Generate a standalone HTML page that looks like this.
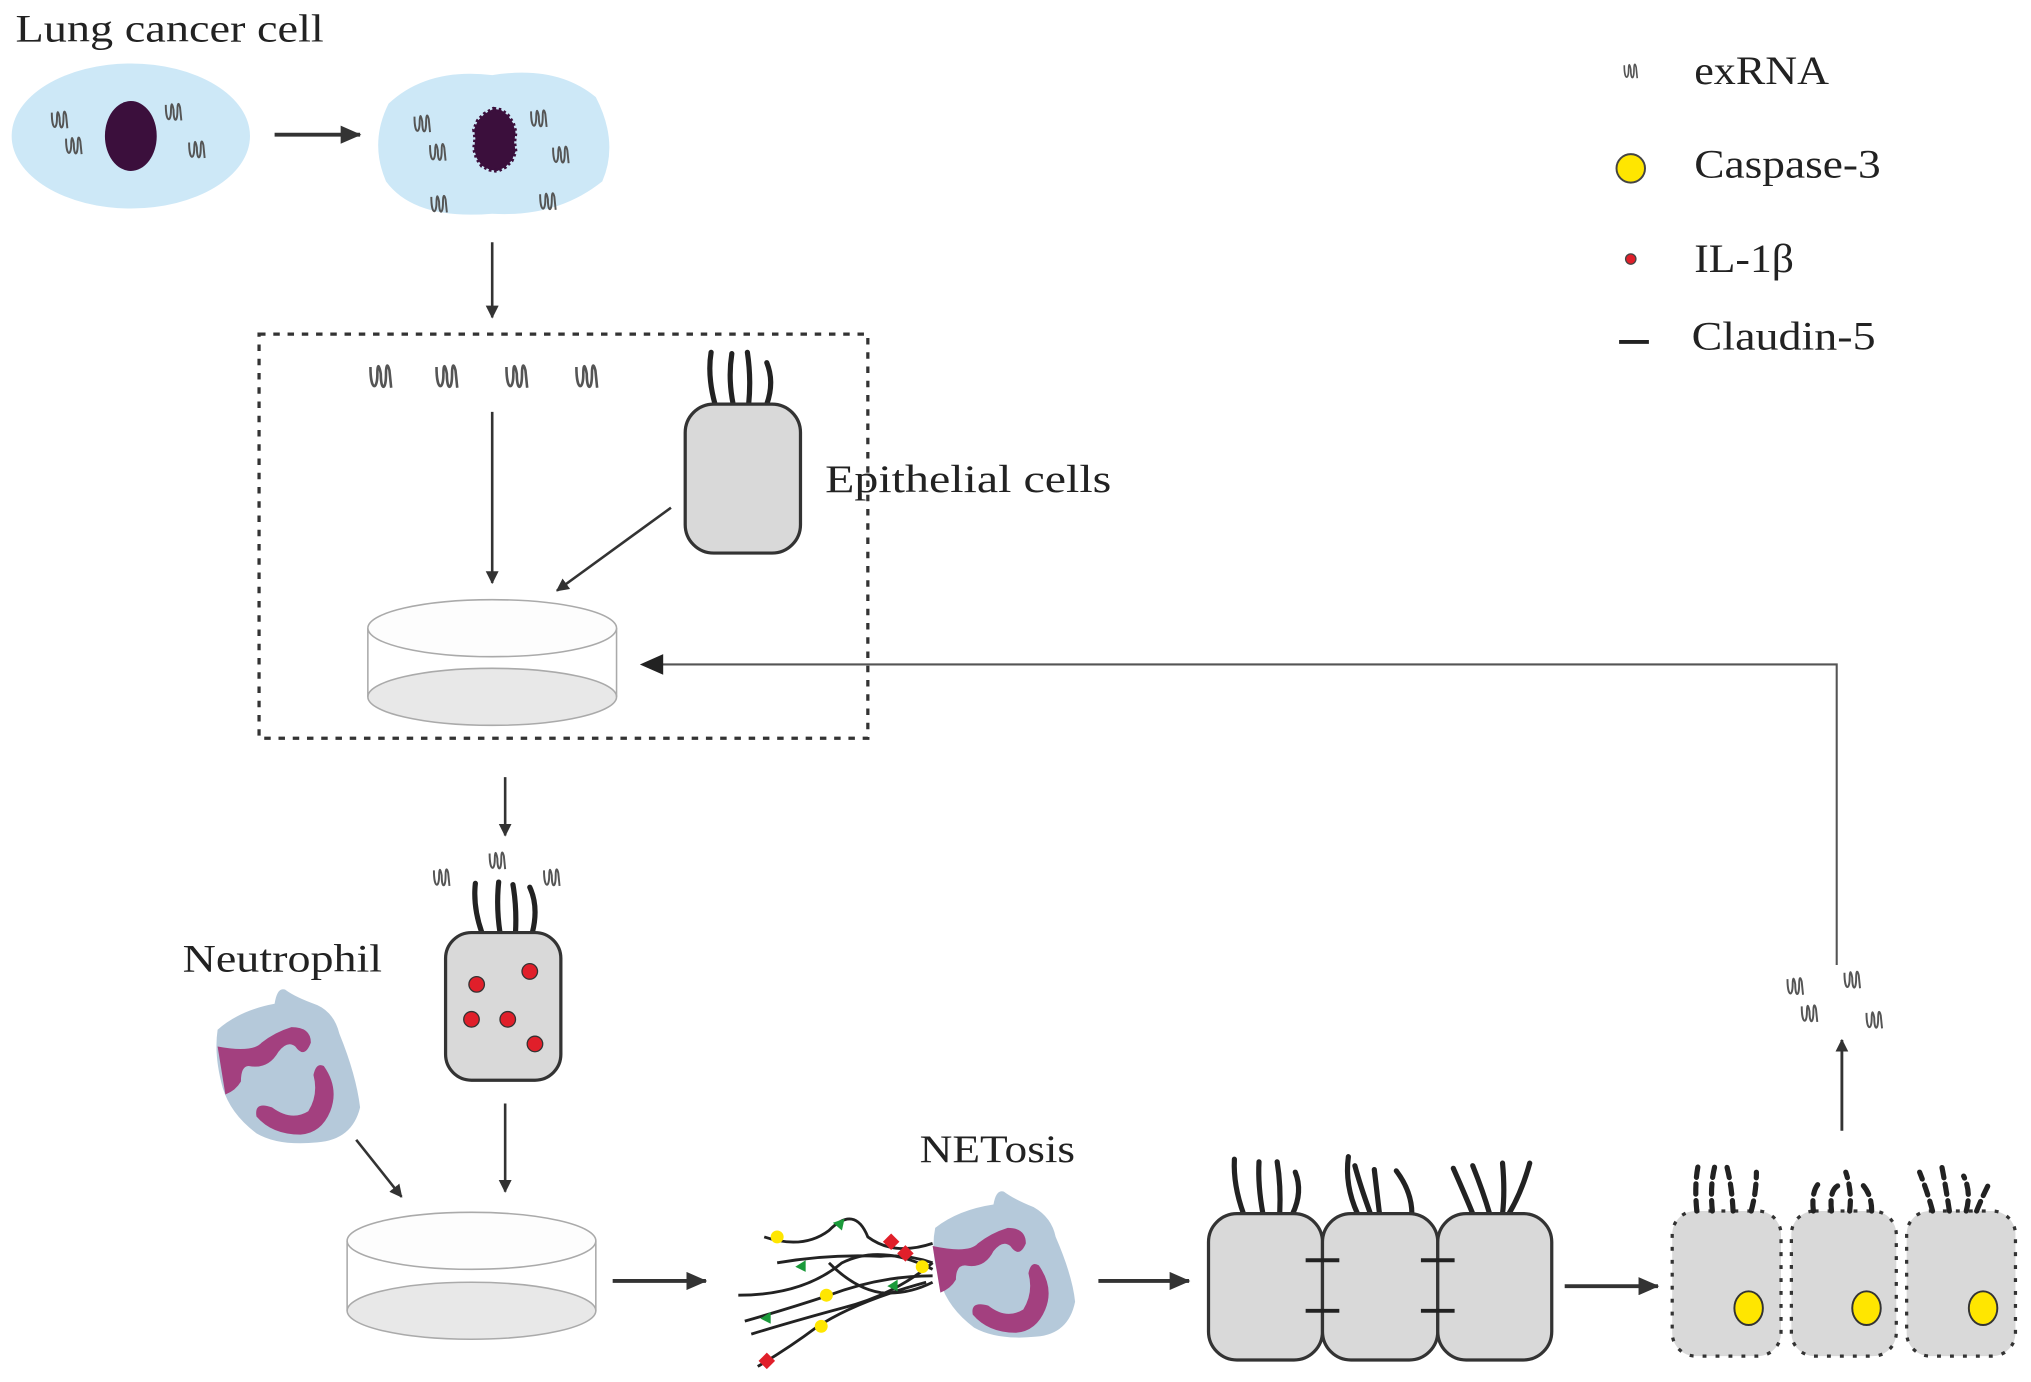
<!DOCTYPE html>
<html><head><meta charset="utf-8"><style>html,body{margin:0;padding:0;background:#fff;}svg{display:block;}</style></head>
<body>
<svg width="2031" height="1382" viewBox="0 0 1568 1067" preserveAspectRatio="none" xmlns="http://www.w3.org/2000/svg">
<defs>
<marker id="ah" markerWidth="10" markerHeight="10" refX="9" refY="5" orient="auto" markerUnits="userSpaceOnUse"><path d="M0,0 L10,5 L0,10 z" fill="#333"/></marker>
<marker id="ahs" markerWidth="16" markerHeight="14" refX="15" refY="7" orient="auto" markerUnits="userSpaceOnUse"><path d="M0,0 L16,7 L0,14 z" fill="#333"/></marker>
<symbol id="r" viewBox="0 0 14 18" overflow="visible"><path d="M1,4 C1,18 5,18 5,8 C5,2 6,2 7,8 C7,18 10,18 10,8 C10,2 11,2 12,6 L13,16" fill="none" stroke="#555" stroke-width="1.5"/></symbol>
</defs>
<g font-family="Liberation Serif, serif" fill="#222">
<text x="12" y="32" font-size="30" textLength="238" lengthAdjust="spacingAndGlyphs">Lung cancer cell</text>
<text x="637" y="380" font-size="30" textLength="221" lengthAdjust="spacingAndGlyphs">Epithelial  cells</text>
<text x="141" y="750" font-size="30" textLength="154" lengthAdjust="spacingAndGlyphs">Neutrophil</text>
<text x="710" y="897" font-size="30" textLength="120" lengthAdjust="spacingAndGlyphs">NETosis</text>
<text x="1308" y="65" font-size="31" textLength="104" lengthAdjust="spacingAndGlyphs">exRNA</text>
<text x="1308" y="137" font-size="31" textLength="144" lengthAdjust="spacingAndGlyphs">Caspase-3</text>
<text x="1308" y="210" font-size="31" textLength="77" lengthAdjust="spacingAndGlyphs">IL-1β</text>
<text x="1306" y="270" font-size="31" textLength="142" lengthAdjust="spacingAndGlyphs">Claudin-5</text>
</g>
<!-- legend -->
<use href="#r" x="1253" y="47" width="12" height="15"/>
<circle cx="1259" cy="130" r="11" fill="#ffe600" stroke="#444" stroke-width="1.5"/>
<circle cx="1259" cy="200" r="4" fill="#e01f2a" stroke="#444" stroke-width="1"/>
<line x1="1250" y1="264" x2="1273" y2="264" stroke="#222" stroke-width="3"/>

<!-- cell 1 -->
<ellipse cx="101" cy="105" rx="92" ry="56" fill="#cde8f7"/>
<ellipse cx="101" cy="105" rx="20" ry="27" fill="#3b0f3c"/>
<use href="#r" x="39" y="83" width="14" height="18"/><use href="#r" x="50" y="103" width="14" height="18"/>
<use href="#r" x="127" y="77" width="14" height="18"/><use href="#r" x="145" y="106" width="14" height="18"/>
<line x1="212" y1="104" x2="278" y2="104" stroke="#333" stroke-width="3" marker-end="url(#ahs)"/>
<!-- cell 2 -->
<path d="M300,80 Q330,52 380,58 Q430,50 460,75 Q478,110 465,140 Q430,168 380,165 Q320,170 298,140 Q285,110 300,80z" fill="#cde8f7"/>
<path d="M381,84 l6,1 5,4 4,6 2,7 -1,8 1,7 -3,7 -5,5 -6,3 -6,-1 -6,-3 -4,-6 -2,-7 1,-8 -1,-7 3,-7 5,-5z" fill="#3b0f3c" stroke="#3b0f3c" stroke-width="3" stroke-dasharray="2,2"/>
<use href="#r" x="319" y="86" width="14" height="18"/><use href="#r" x="331" y="108" width="14" height="18"/>
<use href="#r" x="409" y="82" width="14" height="18"/><use href="#r" x="426" y="110" width="14" height="18"/>
<use href="#r" x="332" y="148" width="14" height="18"/><use href="#r" x="416" y="146" width="14" height="18"/>
<line x1="380" y1="187" x2="380" y2="245" stroke="#333" stroke-width="2" marker-end="url(#ah)"/>

<!-- dashed box -->
<rect x="200" y="258" width="470" height="312" fill="none" stroke="#333" stroke-width="2.5" stroke-dasharray="5,6"/>
<use href="#r" x="284" y="278" width="20" height="24"/><use href="#r" x="335" y="278" width="20" height="24"/>
<use href="#r" x="389" y="278" width="20" height="24"/><use href="#r" x="443" y="278" width="20" height="24"/>
<line x1="380" y1="318" x2="380" y2="450" stroke="#333" stroke-width="2" marker-end="url(#ah)"/>
<g stroke="#222" stroke-width="4" fill="none" stroke-linecap="round"><path d="M552,312 Q546,290 549,272"/><path d="M566,312 Q562,292 565,273"/><path d="M578,312 Q580,292 577,272"/><path d="M592,312 Q598,295 592,280"/></g>
<rect x="529" y="312" width="89" height="115" rx="22" fill="#d9d9d9" stroke="#333" stroke-width="2.5"/>
<line x1="518" y1="392" x2="430" y2="456" stroke="#333" stroke-width="2" marker-end="url(#ah)"/>
<!-- dish 1 -->
<ellipse cx="380" cy="538" rx="96" ry="22" fill="#e8e8e8" stroke="#aaa" stroke-width="1.2"/>
<line x1="284" y1="485" x2="284" y2="538" stroke="#aaa" stroke-width="1.2"/><line x1="476" y1="485" x2="476" y2="538" stroke="#aaa" stroke-width="1.2"/>
<ellipse cx="380" cy="485" rx="96" ry="22" fill="#fdfdfd" stroke="#aaa" stroke-width="1.2"/>
<!-- feedback -->
<polyline points="1418,745 1418,513 497,513" fill="none" stroke="#555" stroke-width="1.6"/>
<path d="M494,513 L512,505 L512,521z" fill="#222"/>

<line x1="390" y1="600" x2="390" y2="645" stroke="#333" stroke-width="2" marker-end="url(#ah)"/>
<use href="#r" x="334" y="668" width="14" height="18"/><use href="#r" x="377" y="655" width="14" height="18"/><use href="#r" x="419" y="668" width="14" height="18"/>
<g stroke="#222" stroke-width="4" fill="none" stroke-linecap="round"><path d="M372,720 Q365,700 367,682"/><path d="M386,720 Q383,700 385,681"/><path d="M398,720 Q399,700 396,683"/><path d="M411,720 Q416,700 409,685"/></g>
<rect x="344" y="720" width="89" height="114" rx="20" fill="#d9d9d9" stroke="#333" stroke-width="2.5"/>
<g fill="#e01f2a" stroke="#333" stroke-width="1"><circle cx="368" cy="760" r="6"/><circle cx="409" cy="750" r="6"/><circle cx="364" cy="787" r="6"/><circle cx="392" cy="787" r="6"/><circle cx="413" cy="806" r="6"/></g>
<!-- neutrophil -->
<path d="M212,775 Q214,762 220,764 Q228,770 245,776 Q258,782 262,798 Q275,830 278,855 Q272,880 245,882 Q215,885 198,875 Q178,860 172,840 Q165,815 168,795 Q185,780 212,775z" fill="#b5c9da"/>
<path d="M168,808 Q195,813 202,805 Q212,797 225,793 Q240,793 240,805 Q235,818 228,808 Q222,803 215,812 Q207,826 192,823 Q186,823 186,835 Q182,842 174,845 Z" fill="#a3407f"/>
<path d="M250,823 Q262,840 255,858 Q248,875 232,876 Q210,876 198,862 Q196,850 210,855 Q225,866 238,858 Q246,845 242,830 Q244,820 250,823z" fill="#a3407f"/>
<line x1="275" y1="880" x2="310" y2="924" stroke="#333" stroke-width="2" marker-end="url(#ah)"/>
<line x1="390" y1="852" x2="390" y2="920" stroke="#333" stroke-width="2" marker-end="url(#ah)"/>
<!-- dish 2 -->
<ellipse cx="364" cy="1012" rx="96" ry="22" fill="#e8e8e8" stroke="#aaa" stroke-width="1.2"/>
<line x1="268" y1="958" x2="268" y2="1012" stroke="#aaa" stroke-width="1.2"/><line x1="460" y1="958" x2="460" y2="1012" stroke="#aaa" stroke-width="1.2"/>
<ellipse cx="364" cy="958" rx="96" ry="22" fill="#fdfdfd" stroke="#aaa" stroke-width="1.2"/>
<line x1="473" y1="989" x2="545" y2="989" stroke="#333" stroke-width="3" marker-end="url(#ahs)"/>
<!-- NETs -->
<g fill="none" stroke="#222" stroke-width="2.2">
<path d="M590,955 Q620,965 640,950 Q660,930 670,955 Q690,970 720,960"/>
<path d="M600,975 Q640,968 680,970 Q700,968 720,975"/>
<path d="M570,1000 Q620,1000 650,975 Q680,960 720,980"/>
<path d="M575,1020 Q610,1010 640,1000 Q680,985 720,985"/>
<path d="M580,1030 Q620,1018 650,1010 Q690,1000 720,975"/>
<path d="M585,1055 Q610,1040 630,1025 Q660,1005 715,990"/>
<path d="M640,975 Q660,995 680,998 Q700,1000 720,990"/>
</g>
<g fill="#ffe600"><circle cx="600" cy="955" r="5"/><circle cx="712" cy="978" r="5"/><circle cx="638" cy="1000" r="5"/><circle cx="634" cy="1024" r="5"/></g>
<g fill="#e01f2a"><rect x="684" y="954" width="9" height="9" transform="rotate(45 688 958)"/><rect x="695" y="963" width="9" height="9" transform="rotate(45 699 967)"/><rect x="588" y="1046" width="9" height="9" transform="rotate(45 592 1050)"/></g>
<g fill="#1a9a3a"><path d="M643,944 l9,-3 -2,9z"/><path d="M614,978 l8,-5 0,9z"/><path d="M685,993 l8,-5 0,9z"/><path d="M587,1018 l8,-5 0,9z"/></g>
<path d="M767,930 Q769,918 775,920 Q783,926 798,932 Q812,940 815,955 Q828,985 830,1005 Q825,1030 800,1032 Q770,1035 752,1025 Q732,1010 726,990 Q718,968 722,948 Q740,934 767,930z" fill="#b5c9da"/>
<path d="M720,962 Q748,968 755,960 Q765,952 778,948 Q792,948 792,960 Q787,972 780,962 Q774,957 767,966 Q760,980 745,977 Q738,977 738,988 Q734,995 726,998 Z" fill="#a3407f"/>
<path d="M802,977 Q814,994 807,1011 Q800,1028 784,1029 Q763,1029 751,1015 Q749,1004 763,1008 Q777,1019 790,1011 Q798,998 794,983 Q796,973 802,977z" fill="#a3407f"/>
<line x1="848" y1="989" x2="918" y2="989" stroke="#333" stroke-width="3" marker-end="url(#ahs)"/>
<!-- cells row -->
<g stroke="#222" stroke-width="4" fill="none" stroke-linecap="round">
<path d="M960,937 Q952,915 953,895"/><path d="M975,937 Q971,915 972,897"/><path d="M988,937 Q989,915 986,897"/><path d="M998,937 Q1006,920 1000,905"/>
<path d="M1048,937 Q1038,915 1041,893"/><path d="M1058,937 Q1050,915 1046,900"/><path d="M1065,937 Q1063,920 1061,903"/><path d="M1090,937 Q1090,920 1078,904"/>
<path d="M1137,937 Q1130,920 1122,902"/><path d="M1150,937 Q1145,920 1137,900"/><path d="M1160,937 Q1162,920 1160,898"/><path d="M1165,937 Q1175,920 1181,898"/>
</g>
<g fill="#d9d9d9" stroke="#333" stroke-width="2.5">
<rect x="933" y="937" width="88" height="113" rx="22"/><rect x="1021" y="937" width="89" height="113" rx="22"/><rect x="1110" y="937" width="88" height="113" rx="22"/>
</g>
<g stroke="#222" stroke-width="3"><line x1="1008" y1="973" x2="1034" y2="973"/><line x1="1008" y1="1012" x2="1034" y2="1012"/><line x1="1097" y1="973" x2="1123" y2="973"/><line x1="1097" y1="1012" x2="1123" y2="1012"/></g>
<line x1="1208" y1="993" x2="1280" y2="993" stroke="#333" stroke-width="3" marker-end="url(#ahs)"/>
<!-- dashed damaged cells -->
<g fill="#d9d9d9" stroke="#333" stroke-width="2.5" stroke-dasharray="3,7">
<rect x="1291" y="935" width="84" height="112" rx="18"/><rect x="1383" y="935" width="81" height="112" rx="18"/><rect x="1472" y="935" width="84" height="112" rx="18"/>
</g>
<g stroke="#222" stroke-width="4" fill="none" stroke-linecap="round" stroke-dasharray="8,5">
<path d="M1310,935 Q1308,915 1311,900"/><path d="M1322,935 Q1320,915 1324,900"/><path d="M1338,935 Q1337,915 1333,900"/><path d="M1352,935 Q1356,920 1356,905"/>
<path d="M1400,935 Q1398,918 1406,912"/><path d="M1414,935 Q1412,918 1420,915"/><path d="M1428,935 Q1430,920 1425,905"/><path d="M1445,935 Q1445,920 1435,912"/>
<path d="M1492,935 Q1488,920 1482,905"/><path d="M1505,935 Q1502,915 1499,900"/><path d="M1518,935 Q1522,920 1516,908"/><path d="M1526,935 Q1530,925 1535,915"/>
</g>
<g fill="#ffe600" stroke="#333" stroke-width="1.5"><ellipse cx="1350" cy="1010" rx="11" ry="13"/><ellipse cx="1441" cy="1010" rx="11" ry="13"/><ellipse cx="1531" cy="1010" rx="11" ry="13"/></g>
<line x1="1422" y1="873" x2="1422" y2="803" stroke="#333" stroke-width="2.2" marker-end="url(#ah)"/>
<use href="#r" x="1379" y="752" width="14" height="18"/><use href="#r" x="1423" y="747" width="14" height="18"/><use href="#r" x="1390" y="773" width="14" height="18"/><use href="#r" x="1440" y="778" width="14" height="18"/>
</svg>
</body></html>
